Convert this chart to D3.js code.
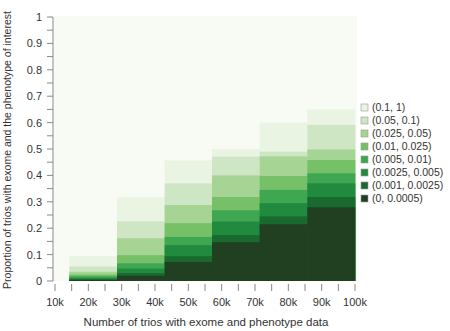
<!DOCTYPE html>
<html>
<head>
  <meta charset='utf-8'>
  <title>Trios chart</title>
  <script src='https://cdn.jsdelivr.net/npm/d3@7/dist/d3.min.js'></script>
  <style>
    body { margin: 0; background: #fff; }
    text { font-family: 'Liberation Sans', Arial, Helvetica, sans-serif; fill: #333; }
  </style>
</head>
<body>
  <script>
    // bar edges along the x axis (thousands of trios)
    const barEdges = [14.3, 28.6, 42.9, 57.1, 71.4, 85.7, 100];

    // legend classes, lightest first
    const classes = ['(0.1, 1)', '(0.05, 0.1)', '(0.025, 0.05)', '(0.01, 0.025)',
      '(0.005, 0.01)', '(0.0025, 0.005)', '(0.001, 0.0025)', '(0, 0.0005)'];
    const colors = ['#e9f4e2', '#cfe6c4', '#a6d495', '#76c068', '#3fa751', '#208a3f', '#1a6a30', '#213f21'];

    // cumulative proportion reached by each class, per bar
    const p01 = [0.095, 0.317, 0.457, 0.499, 0.600, 0.650];
    const p005 = [0.055, 0.226, 0.370, 0.471, 0.490, 0.591];
    const p0025 = [0.035, 0.162, 0.288, 0.400, 0.472, 0.498];
    const p001 = [0.025, 0.098, 0.219, 0.318, 0.398, 0.458];
    const p0005 = [0.018, 0.067, 0.167, 0.268, 0.345, 0.408];
    const p00025 = [0.012, 0.047, 0.136, 0.225, 0.295, 0.370];
    const p0001 = [0.007, 0.030, 0.094, 0.174, 0.245, 0.318];
    const p00005 = [0.004, 0.020, 0.072, 0.147, 0.215, 0.279];
    const series = [p01, p005, p0025, p001, p0005, p00025, p0001, p00005];

    const xTicks = d3.range(10, 101, 5);
    const xLabels = d3.range(10, 101, 10);
    const yTicks = d3.range(0, 1.001, 0.05);
    const yLabels = d3.range(0, 1.001, 0.1);

    const width = 450, height = 331;
    const x = d3.scaleLinear().domain([10, 100]).range([55, 355]);
    const y = d3.scaleLinear().domain([0, 1]).range([281, 17]);

    const svg = d3.select('body').append('svg')
      .attr('width', width)
      .attr('height', height);

    // plot background
    svg.append('rect')
      .attr('x', 54).attr('y', 16)
      .attr('width', 303).attr('height', 265)
      .attr('fill', '#f8fbf4');

    // overlapping cumulative bars, lightest (tallest) drawn first
    const bars = barEdges.slice(0, -1).map((e, i) => ({ x0: e, x1: barEdges[i + 1], i }));
    series.forEach((s, k) => {
      svg.append('g')
        .attr('fill', colors[k])
        .selectAll('rect')
        .data(bars)
        .join('rect')
        .attr('x', d => x(d.x0))
        .attr('width', d => x(d.x1) - x(d.x0) + 0.3)
        .attr('y', d => y(s[d.i]))
        .attr('height', d => y(0) - y(s[d.i]));
    });

    // y axis
    const yAxis = svg.append('g');
    yAxis.append('line')
      .attr('x1', 53).attr('x2', 53)
      .attr('y1', y(0)).attr('y2', y(1))
      .attr('stroke', '#888');
    yAxis.selectAll('line.tick')
      .data(yTicks)
      .join('line')
      .attr('class', 'tick')
      .attr('x1', 47).attr('x2', 53)
      .attr('y1', d => y(d)).attr('y2', d => y(d))
      .attr('stroke', '#888');
    yAxis.selectAll('text')
      .data(yLabels)
      .join('text')
      .attr('x', 42)
      .attr('y', d => y(d))
      .attr('dy', '0.36em')
      .attr('text-anchor', 'end')
      .attr('font-size', 11)
      .text(d => d3.format('~g')(+d.toFixed(1)));

    // x axis
    const xAxis = svg.append('g');
    xAxis.selectAll('line')
      .data(xTicks)
      .join('line')
      .attr('x1', d => x(d)).attr('x2', d => x(d))
      .attr('y1', 284).attr('y2', 291)
      .attr('stroke', '#888');
    xAxis.selectAll('text')
      .data(xLabels)
      .join('text')
      .attr('x', d => x(d))
      .attr('y', 306)
      .attr('text-anchor', 'middle')
      .attr('font-size', 11)
      .text(d => d + 'k');

    svg.append('text')
      .attr('x', 206).attr('y', 326)
      .attr('text-anchor', 'middle')
      .attr('font-size', 11.5)
      .text('Number of trios with exome and phenotype data');

    svg.append('text')
      .attr('transform', 'translate(11,150) rotate(-90)')
      .attr('text-anchor', 'middle')
      .attr('font-size', 10.5)
      .text('Proportion of trios with exome and the phenotype of interest');

    // legend
    const legend = svg.append('g')
      .selectAll('g')
      .data(classes)
      .join('g')
      .attr('transform', (d, i) => `translate(361,${107.5 + i * 13})`);
    legend.append('rect')
      .attr('x', 0).attr('y', -3.5)
      .attr('width', 7).attr('height', 7)
      .attr('fill', (d, i) => colors[i])
      .attr('stroke', '#999')
      .attr('stroke-width', 0.6);
    legend.append('text')
      .attr('x', 11)
      .attr('dy', '0.36em')
      .attr('font-size', 10.5)
      .text(d => d);
  </script>
</body>
</html>
